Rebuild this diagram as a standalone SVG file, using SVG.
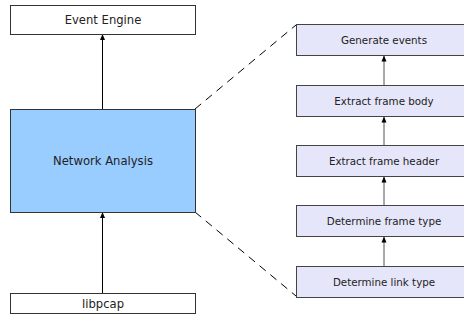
<svg xmlns="http://www.w3.org/2000/svg" width="464" height="324" viewBox="0 0 464 324">
<defs>
<marker id="ah" viewBox="0 0 6 6" refX="6" refY="3" markerWidth="6" markerHeight="6" markerUnits="userSpaceOnUse" orient="auto">
<path d="M0,0.5 L6,3 L0,5.5 Z" fill="#000"/>
</marker>
<style>
.box{fill:#fff;stroke:#333;stroke-width:1}
.na{fill:#99ccff;stroke:#333;stroke-width:1}
.step{fill:#e6e6fa;stroke:#444;stroke-width:1}
.t{font-family:"DejaVu Sans",sans-serif;font-size:11.6px;fill:#222;text-anchor:middle;dominant-baseline:central}
.ts{font-family:"DejaVu Sans",sans-serif;font-size:10.3px;fill:#222;text-anchor:middle;dominant-baseline:central}
.a{stroke:#000;stroke-width:1;fill:none;marker-end:url(#ah)}
.a2{stroke:#555;stroke-width:1;fill:none;marker-end:url(#ah)}
.d{stroke:#000;stroke-width:1;fill:none;stroke-dasharray:8,6}
</style>
</defs>
<g id="connectors">
<line class="a" x1="102.5" y1="109" x2="102.5" y2="34"/>
<line class="a" x1="102.5" y1="293" x2="102.5" y2="212"/>
<line class="a2" x1="384" y1="85.5" x2="384" y2="55.5"/>
<line class="a2" x1="384" y1="145.5" x2="384" y2="116.5"/>
<line class="a2" x1="384" y1="205.5" x2="384" y2="176.5"/>
<line class="a2" x1="384" y1="266.5" x2="384" y2="236.5"/>
<line class="d" x1="195" y1="109" x2="296" y2="25"/>
<line class="d" x1="195" y1="212" x2="296" y2="296"/>
</g>
<g id="event-engine"><rect class="box" x="10.5" y="5.5" width="185" height="29"/><text class="t" x="103" y="20">Event Engine</text></g>
<g id="network-analysis"><rect class="na" x="10.5" y="109.5" width="185" height="103"/><text class="t" x="103" y="161">Network Analysis</text></g>
<g id="libpcap"><rect class="box" x="10.5" y="293.5" width="185" height="20"/><text class="t" x="103" y="303.5">libpcap</text></g>
<g id="generate-events"><rect class="step" x="296.5" y="24.5" width="176" height="31"/><text class="ts" x="384" y="40">Generate events</text></g>
<g id="extract-frame-body"><rect class="step" x="296.5" y="85.5" width="176" height="31"/><text class="ts" x="384" y="101">Extract frame body</text></g>
<g id="extract-frame-header"><rect class="step" x="296.5" y="145.5" width="176" height="31"/><text class="ts" x="384" y="161">Extract frame header</text></g>
<g id="determine-frame-type"><rect class="step" x="296.5" y="205.5" width="176" height="31"/><text class="ts" x="384" y="221">Determine frame type</text></g>
<g id="determine-link-type"><rect class="step" x="296.5" y="266.5" width="176" height="31"/><text class="ts" x="384" y="282">Determine link type</text></g>
</svg>
